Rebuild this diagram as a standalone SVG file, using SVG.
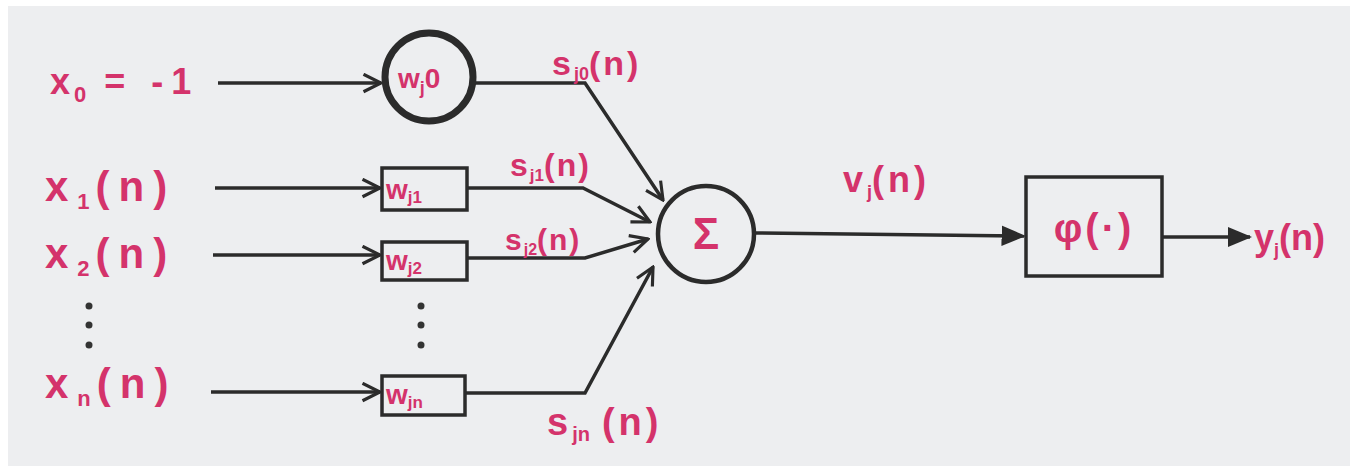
<svg xmlns="http://www.w3.org/2000/svg" width="1357" height="474" viewBox="0 0 1357 474">
<defs>
<style>
.t{font-family:"Liberation Sans",Arial,sans-serif;fill:#d4336b;font-weight:bold}
.w{font-family:"Liberation Sans",Arial,sans-serif;fill:#d4336b;font-weight:bold;font-size:28px}
.sub{letter-spacing:0}
.ln{stroke:#2b2b2b;stroke-width:3.5;fill:none}
.box{stroke:#2b2b2b;stroke-width:3.5;fill:none}
</style>
<marker id="open" viewBox="0 0 12 12" refX="11" refY="6" markerWidth="6" markerHeight="6" orient="auto" markerUnits="strokeWidth">
<path d="M1,1 L11,6 L1,11" fill="none" stroke="#2b2b2b" stroke-width="1.8"/>
</marker>
<marker id="fill" viewBox="0 0 12 12" refX="11" refY="6" markerWidth="7" markerHeight="7" orient="auto" markerUnits="strokeWidth">
<path d="M0,1 L12,6 L0,11 Z" fill="#2b2b2b"/>
</marker>
</defs>
<rect x="0" y="0" width="1357" height="474" fill="#ffffff"/>
<rect x="8" y="6" width="1342" height="460" fill="#edeef0"/>

<g id="connectors">
<line class="ln" x1="218" y1="83" x2="381" y2="83" marker-end="url(#open)"/>
<line class="ln" x1="215" y1="188" x2="380" y2="188" marker-end="url(#open)"/>
<line class="ln" x1="213" y1="255" x2="380" y2="255" marker-end="url(#open)"/>
<line class="ln" x1="211" y1="392" x2="380" y2="392" marker-end="url(#open)"/>
<polyline class="ln" points="475,83 585,83 663,200" marker-end="url(#open)"/>
<polyline class="ln" points="467,188 583,188 650,222" marker-end="url(#open)"/>
<polyline class="ln" points="467,258 585,258 648,239" marker-end="url(#open)"/>
<polyline class="ln" points="465,393 585,393 653,267" marker-end="url(#open)"/>
<line class="ln" x1="755" y1="233" x2="1024" y2="236" marker-end="url(#fill)"/>
<line class="ln" x1="1162" y1="237" x2="1250" y2="237" marker-end="url(#fill)"/>
</g>

<g id="in0"><text class="t" x="50" y="94" font-size="36" letter-spacing="4">x<tspan class="sub" font-size="22" dy="8">0</tspan><tspan dy="-8" letter-spacing="8"> = -1</tspan></text></g>
<g id="in1"><text class="t" x="45" y="201" font-size="42" letter-spacing="9">x<tspan class="sub" font-size="22" dy="8">1</tspan><tspan dy="-8" dx="6">(n)</tspan></text></g>
<g id="in2"><text class="t" x="45" y="268" font-size="42" letter-spacing="9">x<tspan class="sub" font-size="22" dy="8">2</tspan><tspan dy="-8" dx="6">(n)</tspan></text></g>
<g id="indots"><circle cx="89" cy="306" r="3.5" fill="#333"/><circle cx="89" cy="325" r="3.5" fill="#333"/><circle cx="89" cy="345" r="3.5" fill="#333"/></g>
<g id="inn"><text class="t" x="45" y="398" font-size="42" letter-spacing="9">x<tspan class="sub" font-size="22" dy="8">n</tspan><tspan dy="-8" dx="6">(n)</tspan></text></g>

<g id="w0"><circle cx="429" cy="77" r="44" fill="none" stroke="#2b2b2b" stroke-width="7"/><text class="w" x="398" y="88" font-size="32">w<tspan font-size="18" dy="6">j</tspan><tspan dy="-6">0</tspan></text></g>
<g id="w1"><rect class="box" x="382" y="168" width="85" height="42"/><text class="w" x="386" y="199">w<tspan font-size="17" dy="4">j1</tspan></text></g>
<g id="w2"><rect class="box" x="382" y="242" width="85" height="38"/><text class="w" x="386" y="270">w<tspan font-size="17" dy="4">j2</tspan></text></g>
<g id="wdots"><circle cx="421" cy="306" r="3.5" fill="#333"/><circle cx="421" cy="325" r="3.5" fill="#333"/><circle cx="421" cy="345" r="3.5" fill="#333"/></g>
<g id="wn"><rect class="box" x="382" y="376" width="83" height="39"/><text class="w" x="386" y="404">w<tspan font-size="17" dy="4">jn</tspan></text></g>

<g id="s0"><text class="t" x="552" y="75" font-size="34" letter-spacing="3">s<tspan class="sub" font-size="18" dy="5">j0</tspan><tspan dy="-5">(n)</tspan></text></g>
<g id="s1"><text class="t" x="510" y="176" font-size="32" letter-spacing="2">s<tspan class="sub" font-size="17" dy="5">j1</tspan><tspan dy="-5">(n)</tspan></text></g>
<g id="s2"><text class="t" x="505" y="250" font-size="30" letter-spacing="2">s<tspan class="sub" font-size="16" dy="5">j2</tspan><tspan dy="-5">(n)</tspan></text></g>
<g id="sn"><text class="t" x="547" y="435" font-size="38" letter-spacing="4">s<tspan class="sub" font-size="20" dy="6">jn</tspan><tspan dy="-6" dx="12">(n)</tspan></text></g>

<g id="sum"><circle cx="706" cy="234" r="48" fill="none" stroke="#2b2b2b" stroke-width="4.5"/><text class="t" x="706" y="249" font-size="44" font-weight="normal" text-anchor="middle">Σ</text></g>

<g id="v"><text class="t" x="843" y="192" font-size="36" letter-spacing="4">v<tspan class="sub" font-size="18" dy="6">j</tspan><tspan dy="-6">(n)</tspan></text></g>

<g id="phi"><rect class="box" x="1026" y="177" width="136" height="99"/><text class="t" x="1094" y="242" font-size="40" letter-spacing="3" text-anchor="middle">φ(·)</text></g>

<g id="y"><text class="t" x="1254" y="250" font-size="36">y<tspan font-size="18" dy="6">j</tspan><tspan dy="-6">(n)</tspan></text></g>
</svg>
